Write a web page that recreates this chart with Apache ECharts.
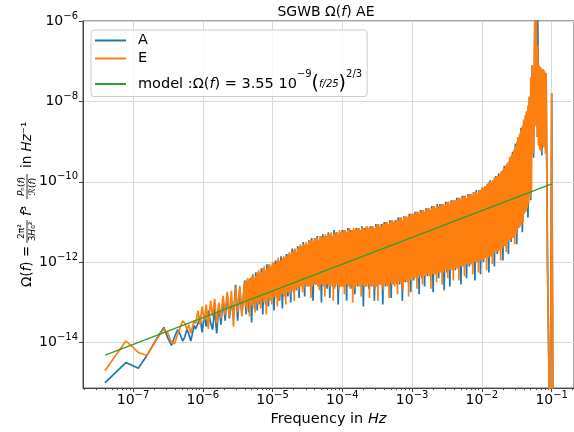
<!DOCTYPE html>
<html><head><meta charset="utf-8">
<script src="https://cdn.jsdelivr.net/npm/echarts@6/dist/echarts.min.js"></script>
<style>html,body{margin:0;padding:0;background:#fff}#c{width:574px;height:432px}</style>
</head><body><div id="c"></div><script>
const FONT = 'DejaVu Sans';
// ---- tick labels (exponents of 10) ----
const xTickExps = [-7, -6, -5, -4, -3, -2, -1];
const yTickExps = [-14, -12, -10, -8, -6];
const seriesNames = ['A', 'E', 'model'];
const seriesColors = ['#1f77b4', '#ff7f0e', '#2ca02c'];

// ---- data: frequency (Hz) shared by A and E ----
const freq = [
 3.95e-8,7.9e-8,1.19e-7,1.58e-7,1.98e-7,2.37e-7,2.77e-7,3.16e-7,3.56e-7,3.95e-7,4.35e-7,4.74e-7,5.14e-7,5.53e-7,5.93e-7,6.32e-7,6.72e-7,7.11e-7,7.51e-7,7.9e-7,
 8.51e-7,9.12e-7,9.77e-7,1.05e-6,1.12e-6,1.2e-6,1.29e-6,1.38e-6,1.48e-6,1.58e-6,1.7e-6,1.82e-6,1.95e-6,2.09e-6,2.24e-6,2.4e-6,2.57e-6,2.75e-6,2.95e-6,3.16e-6,3.39e-6,3.63e-6,
 3.98e-6,4.17e-6,4.37e-6,4.57e-6,4.79e-6,5.01e-6,5.25e-6,5.5e-6,5.75e-6,6.03e-6,6.31e-6,6.61e-6,6.92e-6,7.24e-6,7.59e-6,7.94e-6,8.32e-6,8.71e-6,9.12e-6,9.55e-6,
 1e-5,1.05e-5,1.1e-5,1.15e-5,1.2e-5,1.26e-5,1.32e-5,1.38e-5,1.45e-5,1.51e-5,1.58e-5,1.66e-5,1.74e-5,1.82e-5,1.91e-5,2e-5,2.09e-5,2.19e-5,2.29e-5,2.4e-5,2.51e-5,2.63e-5,2.75e-5,2.88e-5,3.02e-5,3.16e-5,3.31e-5,3.47e-5,3.63e-5,3.8e-5,3.98e-5,4.17e-5,4.37e-5,4.57e-5,4.79e-5,5.01e-5,5.25e-5,5.5e-5,5.75e-5,6.03e-5,6.31e-5,6.61e-5,6.92e-5,7.24e-5,7.59e-5,7.94e-5,8.32e-5,8.71e-5,9.12e-5,9.55e-5,
 1e-4,1.05e-4,1.1e-4,1.15e-4,1.2e-4,1.26e-4,1.32e-4,1.38e-4,1.45e-4,1.51e-4,1.58e-4,1.66e-4,1.74e-4,1.82e-4,1.91e-4,2e-4,2.09e-4,2.19e-4,2.29e-4,2.4e-4,2.51e-4,2.63e-4,2.75e-4,2.88e-4,3.02e-4,3.16e-4,3.31e-4,3.47e-4,3.63e-4,3.8e-4,3.98e-4,4.17e-4,4.37e-4,4.57e-4,4.79e-4,5.01e-4,5.25e-4,5.5e-4,5.75e-4,6.03e-4,6.31e-4,6.61e-4,6.92e-4,7.24e-4,7.59e-4,7.94e-4,8.32e-4,8.71e-4,9.12e-4,9.55e-4,
 1e-3,1.05e-3,1.1e-3,1.15e-3,1.2e-3,1.26e-3,1.32e-3,1.38e-3,1.45e-3,1.51e-3,1.58e-3,1.66e-3,1.74e-3,1.82e-3,1.91e-3,2e-3,2.09e-3,2.19e-3,2.29e-3,2.4e-3,2.51e-3,2.63e-3,2.75e-3,2.88e-3,3.02e-3,3.16e-3,3.31e-3,3.47e-3,3.63e-3,3.8e-3,3.98e-3,4.17e-3,4.37e-3,4.57e-3,4.79e-3,5.01e-3,5.25e-3,5.5e-3,5.75e-3,6.03e-3,6.31e-3,6.61e-3,6.92e-3,7.24e-3,7.59e-3,7.94e-3,8.32e-3,8.71e-3,9.12e-3,9.55e-3,
 1e-2,1.05e-2,1.1e-2,1.15e-2,1.2e-2,1.26e-2,1.32e-2,1.38e-2,1.45e-2,1.51e-2,1.58e-2,1.66e-2,1.74e-2,1.82e-2,1.91e-2,2e-2,2.09e-2,2.19e-2,2.29e-2,2.4e-2,2.51e-2,2.63e-2,2.75e-2,2.88e-2,3.02e-2,3.16e-2,3.31e-2,3.47e-2,3.63e-2,3.8e-2,3.98e-2,4.17e-2,4.37e-2,4.57e-2,4.79e-2,5.01e-2,5.25e-2,5.5e-2,
 5.75e-2,6.03e-2,6.31e-2,6.61e-2,6.92e-2,7.24e-2,7.59e-2,7.94e-2,8.32e-2,8.71e-2,9.12e-2,9.55e-2,1e-1,1.05e-1
];
// ---- Omega(f) for channel A ----
const omegaA = [
 1.0e-15,3.2e-15,2.3e-15,4.8e-15,9.5e-15,1.6e-14,2.4e-14,1.3e-14,8.5e-15,1.4e-14,2.1e-14,1.6e-14,1.1e-14,1.4e-14,2.2e-14,1.6e-14,1.1e-14,1.7e-14,2.7e-14,2.2e-14,
 3.0e-14,4.5e-14,1.8e-14,5.0e-14,2.5e-14,6.3e-14,3.2e-14,2.1e-14,7.0e-14,1.7e-14,8.8e-14,2.8e-14,1.24e-13,3.5e-14,1.56e-13,4.0e-14,1.1e-13,4.5e-14,2.76e-13,3.5e-14,2.2e-13,5.0e-14,
 3.5e-13,5.0e-14,3.5e-13,5.6e-14,4.0e-13,3.2e-14,5.0e-13,7.1e-14,5.6e-13,6.3e-14,
 5.6e-13,8.9e-14,7.1e-13,5.0e-14,7.1e-13,8.9e-14,8.9e-13,7.9e-14,7.9e-13,1.1e-13,
 8.9e-13,6.3e-14,1.1e-12,1.3e-13,1.1e-12,1.1e-13,1.4e-12,7.1e-14,1.3e-12,1.6e-13,
 1.6e-12,1.4e-13,1.6e-12,1.0e-13,2.2e-12,1.8e-13,2.0e-12,2.0e-13,2.5e-12,1.3e-13,
 2.5e-12,2.8e-13,3.2e-12,1.4e-13,2.8e-12,2.5e-13,3.5e-12,2.5e-13,4.0e-12,1.1e-13,
 3.5e-12,2.8e-13,4.5e-12,2.5e-13,4.0e-12,1.0e-13,5.0e-12,2.5e-13,4.5e-12,2.2e-13,
 5.6e-12,1.3e-13,5.0e-12,2.5e-13,6.3e-12,2.5e-13,5.6e-12,8.9e-14,5.6e-12,2.5e-13,
 6.3e-12,2.5e-13,5.6e-12,1.1e-13,7.1e-12,2.5e-13,6.3e-12,2.2e-13,6.3e-12,1.6e-13,
 7.1e-12,2.5e-13,6.3e-12,2.5e-13,7.9e-12,7.9e-14,7.1e-12,2.5e-13,7.1e-12,2.2e-13,
 7.9e-12,2.5e-13,7.9e-12,1.1e-13,8.9e-12,2.5e-13,7.9e-12,2.8e-13,8.9e-12,8.9e-14,
 1.0e-11,2.5e-13,8.9e-12,2.8e-13,1.1e-11,1.3e-13,1.0e-11,2.8e-13,1.1e-11,2.8e-13,
 1.3e-11,2.8e-13,1.3e-11,1.1e-13,1.4e-11,3.2e-13,1.3e-11,3.2e-13,1.6e-11,1.8e-13,
 1.6e-11,3.5e-13,1.8e-11,4.0e-13,1.8e-11,1.6e-13,2.0e-11,4.0e-13,1.8e-11,2.5e-13,
 2.2e-11,4.5e-13,2.2e-11,5.0e-13,2.5e-11,1.8e-13,2.2e-11,5.0e-13,2.8e-11,4.0e-13,
 2.8e-11,5.6e-13,2.8e-11,2.0e-13,3.2e-11,5.6e-13,3.2e-11,2.5e-13,3.5e-11,6.3e-13,
 3.5e-11,6.3e-13,4.0e-11,7.1e-13,4.0e-11,2.8e-13,4.5e-11,7.9e-13,4.5e-11,4.0e-13,
 5.0e-11,7.9e-13,5.0e-11,8.9e-13,5.6e-11,3.5e-13,6.3e-11,1.0e-12,6.3e-11,5.0e-13,
 7.1e-11,1.0e-12,7.9e-11,1.3e-12,8.9e-11,5.6e-13,1.1e-10,1.4e-12,1.1e-10,7.9e-13,
 1.4e-10,1.6e-12,1.6e-10,2.0e-12,1.8e-10,1.1e-12,2.5e-10,2.8e-12,2.8e-10,1.6e-12,
 4.0e-10,3.2e-12,5.6e-10,4.5e-12,8.9e-10,2.8e-12,1.3e-9,7.9e-12,2.2e-9,5.6e-12,
 3.5e-9,1.8e-11,5.6e-9,1.3e-11,1.3e-8,3.5e-11,7.9e-8,4.0e-10,
 2.0e-6,2.0e-8,1.3e-6,1.0e-9,7.1e-8,4.5e-10,6.3e-8,7.9e-10,5.0e-8,1.0e-12,2.5e-15,1e-17,1.6e-8,1e-17
];
// ---- Omega(f) for channel E (same frequencies as above) ----
const omegaE = [
 2.0e-15,1.1e-14,5.7e-15,4.8e-15,9.1e-15,1.5e-14,2.2e-14,1.7e-14,1.0e-14,9.5e-15,1.6e-14,2.4e-14,3.5e-14,3.0e-14,2.1e-14,2.8e-14,1.7e-14,2.5e-14,3.5e-14,3.0e-14,
 6.3e-14,2.8e-14,7.9e-14,3.5e-14,8.8e-14,2.2e-14,1.1e-13,4.5e-14,1.24e-13,3.0e-14,9.9e-14,4.0e-14,1.47e-13,5.0e-14,1.85e-13,4.5e-14,1.96e-13,2.5e-14,2.46e-13,5.6e-14,2.6e-13,4.5e-14,
 3.2e-13,3.5e-13,4.0e-13,3.8e-13,3.5e-13,4.5e-13,5.0e-13,4.2e-13,4.5e-13,5.6e-13,
 6.3e-13,5.0e-13,5.6e-13,7.1e-13,7.9e-13,6.3e-13,7.1e-13,8.9e-13,8.9e-13,7.9e-13,
 1.0e-12,1.0e-12,8.9e-13,1.1e-12,1.3e-12,1.1e-12,1.1e-12,1.3e-12,1.4e-12,1.3e-12,
 1.4e-12,1.6e-12,1.8e-12,1.6e-12,1.8e-12,2.0e-12,2.2e-12,1.8e-12,2.2e-12,2.5e-12,
 2.8e-12,2.5e-12,2.8e-12,2.8e-12,3.2e-12,2.8e-12,3.2e-12,3.5e-12,3.5e-12,3.2e-12,
 4.0e-12,4.0e-12,4.0e-12,3.5e-12,4.5e-12,4.5e-12,4.0e-12,4.5e-12,5.0e-12,4.5e-12,
 5.0e-12,5.0e-12,5.6e-12,4.5e-12,5.0e-12,5.6e-12,5.6e-12,5.0e-12,6.3e-12,5.6e-12,
 5.6e-12,6.3e-12,6.3e-12,5.6e-12,6.3e-12,7.1e-12,5.6e-12,6.3e-12,7.1e-12,6.3e-12,
 6.3e-12,7.1e-12,7.1e-12,6.3e-12,7.1e-12,7.1e-12,6.3e-12,7.9e-12,7.9e-12,7.1e-12,
 7.1e-12,7.9e-12,7.9e-12,7.1e-12,7.9e-12,8.9e-12,8.9e-12,7.9e-12,7.9e-12,8.9e-12,
 8.9e-12,1.0e-11,1.0e-11,8.9e-12,1.0e-11,1.1e-11,1.1e-11,1.0e-11,1.0e-11,1.1e-11,
 1.1e-11,1.3e-11,1.3e-11,1.1e-11,1.3e-11,1.4e-11,1.4e-11,1.3e-11,1.4e-11,1.6e-11,
 1.6e-11,1.6e-11,1.6e-11,1.8e-11,1.8e-11,1.6e-11,1.8e-11,2.0e-11,2.0e-11,1.8e-11,
 2.0e-11,2.2e-11,2.2e-11,2.0e-11,2.2e-11,2.5e-11,2.5e-11,2.2e-11,2.5e-11,2.5e-11,
 2.5e-11,2.8e-11,2.8e-11,2.5e-11,2.8e-11,3.2e-11,3.2e-11,2.8e-11,3.2e-11,3.5e-11,
 3.5e-11,3.5e-11,3.5e-11,4.0e-11,4.0e-11,3.5e-11,4.0e-11,4.5e-11,4.5e-11,4.0e-11,
 4.5e-11,5.0e-11,5.0e-11,4.5e-11,5.6e-11,5.6e-11,5.6e-11,5.0e-11,6.3e-11,6.3e-11,
 7.1e-11,7.1e-11,7.9e-11,7.1e-11,8.9e-11,1.0e-10,1.0e-10,1.0e-10,1.1e-10,1.3e-10,
 1.3e-10,1.4e-10,1.4e-10,1.6e-10,1.8e-10,2.0e-10,2.2e-10,2.5e-10,2.8e-10,3.2e-10,
 4.0e-10,4.5e-10,5.0e-10,6.3e-10,7.9e-10,1.0e-9,1.3e-9,1.6e-9,2.0e-9,2.5e-9,
 3.5e-9,4.5e-9,5.6e-9,7.9e-9,1.3e-8,4.0e-8,7.9e-8,5.0e-10,
 2.0e-6,1.3e-6,2.5e-7,7.9e-8,7.1e-8,6.3e-8,6.3e-8,5.6e-8,5.0e-8,1.0e-12,2.5e-15,1e-17,1.6e-8,1e-17
];
// ---- extra E samples read between the points above (dense band 4e-6 .. 8e-2) ----
const freqEExtra = [
 4.07e-6,4.27e-6,4.47e-6,4.68e-6,4.9e-6,5.13e-6,5.37e-6,5.62e-6,5.89e-6,6.17e-6,6.46e-6,6.76e-6,7.08e-6,7.41e-6,7.76e-6,8.13e-6,8.51e-6,8.91e-6,9.33e-6,9.77e-6,
 1.02e-5,1.07e-5,1.12e-5,1.17e-5,1.23e-5,1.29e-5,1.35e-5,1.41e-5,1.48e-5,1.55e-5,1.62e-5,1.7e-5,1.78e-5,1.86e-5,1.95e-5,2.04e-5,2.14e-5,2.24e-5,2.34e-5,2.45e-5,2.57e-5,2.69e-5,2.82e-5,2.95e-5,3.09e-5,3.24e-5,3.39e-5,3.55e-5,3.72e-5,3.89e-5,4.07e-5,4.27e-5,4.47e-5,4.68e-5,4.9e-5,5.13e-5,5.37e-5,5.62e-5,5.89e-5,6.17e-5,6.46e-5,6.76e-5,7.08e-5,7.41e-5,7.76e-5,8.13e-5,8.51e-5,8.91e-5,9.33e-5,9.77e-5,
 1.02e-4,1.07e-4,1.12e-4,1.17e-4,1.23e-4,1.29e-4,1.35e-4,1.41e-4,1.48e-4,1.55e-4,1.62e-4,1.7e-4,1.78e-4,1.86e-4,1.95e-4,2.04e-4,2.14e-4,2.24e-4,2.34e-4,2.45e-4,2.57e-4,2.69e-4,2.82e-4,2.95e-4,3.09e-4,3.24e-4,3.39e-4,3.55e-4,3.72e-4,3.89e-4,4.07e-4,4.27e-4,4.47e-4,4.68e-4,4.9e-4,5.13e-4,5.37e-4,5.62e-4,5.89e-4,6.17e-4,6.46e-4,6.76e-4,7.08e-4,7.41e-4,7.76e-4,8.13e-4,8.51e-4,8.91e-4,9.33e-4,9.77e-4,
 1.02e-3,1.07e-3,1.12e-3,1.17e-3,1.23e-3,1.29e-3,1.35e-3,1.41e-3,1.48e-3,1.55e-3,1.62e-3,1.7e-3,1.78e-3,1.86e-3,1.95e-3,2.04e-3,2.14e-3,2.24e-3,2.34e-3,2.45e-3,2.57e-3,2.69e-3,2.82e-3,2.95e-3,3.09e-3,3.24e-3,3.39e-3,3.55e-3,3.72e-3,3.89e-3,4.07e-3,4.27e-3,4.47e-3,4.68e-3,4.9e-3,5.13e-3,5.37e-3,5.62e-3,5.89e-3,6.17e-3,6.46e-3,6.76e-3,7.08e-3,7.41e-3,7.76e-3,8.13e-3,8.51e-3,8.91e-3,9.33e-3,9.77e-3,
 1.02e-2,1.07e-2,1.12e-2,1.17e-2,1.23e-2,1.29e-2,1.35e-2,1.41e-2,1.48e-2,1.55e-2,1.62e-2,1.7e-2,1.78e-2,1.86e-2,1.95e-2,2.04e-2,2.14e-2,2.24e-2,2.34e-2,2.45e-2,2.57e-2,2.69e-2,2.82e-2,2.95e-2,3.09e-2,3.24e-2,3.39e-2,3.55e-2,3.72e-2,3.89e-2,4.07e-2,4.27e-2,4.47e-2,4.68e-2,4.9e-2,5.13e-2,
 5.89e-2,6.17e-2,6.46e-2,6.76e-2,7.08e-2,7.41e-2,7.76e-2,8.13e-2
];
const omegaEExtra = [
 7.9e-14,6.3e-14,1.0e-13,4.5e-14,8.9e-14,7.9e-14,1.1e-13,5.6e-14,1.0e-13,8.9e-14,
 1.1e-13,7.1e-14,1.3e-13,1.0e-13,1.1e-13,5.0e-14,1.3e-13,1.1e-13,1.3e-13,8.9e-14,
 1.3e-13,1.4e-13,1.4e-13,7.9e-14,1.1e-13,1.4e-13,1.6e-13,1.6e-13,1.4e-13,8.9e-14,
 1.8e-13,1.8e-13,1.6e-13,2.0e-13,2.0e-13,1.1e-13,2.2e-13,2.2e-13,2.0e-13,2.5e-13,
 2.5e-13,1.8e-13,2.2e-13,2.8e-13,2.8e-13,2.5e-13,2.5e-13,1.3e-13,2.5e-13,2.8e-13,
 2.8e-13,3.2e-13,2.5e-13,2.0e-13,2.8e-13,2.8e-13,2.5e-13,1.4e-13,2.8e-13,2.8e-13,
 2.5e-13,2.5e-13,2.8e-13,1.1e-13,2.2e-13,2.8e-13,2.8e-13,2.0e-13,2.5e-13,2.5e-13,
 2.5e-13,1.6e-13,2.8e-13,2.8e-13,2.5e-13,2.2e-13,2.8e-13,1.0e-13,2.2e-13,2.5e-13,
 2.8e-13,2.8e-13,2.5e-13,1.4e-13,2.8e-13,2.5e-13,2.5e-13,2.5e-13,2.8e-13,1.3e-13,
 2.5e-13,2.8e-13,2.8e-13,2.2e-13,2.5e-13,1.1e-13,2.8e-13,2.8e-13,2.5e-13,2.0e-13,
 2.8e-13,2.8e-13,2.5e-13,1.3e-13,3.2e-13,2.8e-13,2.8e-13,2.5e-13,3.2e-13,1.6e-13,
 3.2e-13,3.2e-13,2.8e-13,2.0e-13,3.5e-13,3.5e-13,3.2e-13,1.4e-13,3.5e-13,3.5e-13,
 4.0e-13,4.0e-13,4.5e-13,2.2e-13,4.0e-13,4.5e-13,4.5e-13,2.8e-13,4.5e-13,4.5e-13,
 5.0e-13,5.0e-13,4.5e-13,2.2e-13,5.0e-13,5.0e-13,5.0e-13,3.2e-13,5.6e-13,5.6e-13,
 5.6e-13,2.8e-13,5.6e-13,6.3e-13,6.3e-13,4.0e-13,6.3e-13,6.3e-13,7.1e-13,3.5e-13,
 7.1e-13,7.1e-13,7.1e-13,3.5e-13,7.9e-13,7.9e-13,7.9e-13,4.5e-13,8.9e-13,8.9e-13,
 8.9e-13,8.9e-13,8.9e-13,5.0e-13,1.0e-12,1.0e-12,1.0e-12,5.6e-13,1.1e-12,1.1e-12,
 1.1e-12,1.1e-12,1.3e-12,6.3e-13,1.3e-12,1.4e-12,1.4e-12,8.9e-13,1.6e-12,1.8e-12,
 1.8e-12,1.8e-12,2.0e-12,1.1e-12,2.2e-12,2.5e-12,2.5e-12,1.8e-12,3.2e-12,3.5e-12,
 3.5e-12,4.0e-12,4.0e-12,2.8e-12,5.0e-12,6.3e-12,7.1e-12,7.9e-12,8.9e-12,1.0e-11,
 1.6e-11,1.8e-11,2.2e-11,2.8e-11,4.0e-11,5.6e-11,
 2.5e-9,1.3e-9,7.9e-10,6.3e-10,5.6e-10,7.9e-10,7.1e-10,5.0e-10
];
// ---- model line end points ----
const modelFreq = [4e-8, 1e-1];
const modelOmega = [4.9e-15, 8.9e-11];

// ---- helpers ----
const lg = Math.log10;
const toXY = (fs, vs) => fs.map((f, i) => [lg(f), lg(vs[i])]);
const byX = (a, b) => a[0] - b[0];
const dataA = toXY(freq, omegaA);
const dataE = toXY(freq, omegaE).concat(toXY(freqEExtra, omegaEExtra)).sort(byX);
const X_MIN = -7.717, X_MAX = -0.68, Y_MIN = -15.13, Y_MAX = -6;
const minorX = [];
for (let n = -8; n <= -1; n++) for (let m = 2; m <= 9; m++) {
  const v = n + lg(m); if (v > X_MIN && v < X_MAX) minorX.push(v);
}
function expLabel(v) { const e = Math.round(v); return '{b|10}{s|' + (e < 0 ? '\u2212' : '') + Math.abs(e) + '}'; }
const tickRich = {
  b: {fontFamily: FONT, fontSize: 14, lineHeight: 20, color: '#000'},
  s: {fontFamily: FONT, fontSize: 10, lineHeight: 11, verticalAlign: 'top', color: '#000'}
};
const LF = 14.5;
const legRich = {
  n: {fontFamily: FONT, fontSize: LF, lineHeight: 18, padding: [0, 0, 0, 7], color: '#000'},
  t0: {fontFamily: FONT, fontSize: LF, lineHeight: 30, padding: [0, 0, 0, 7], color: '#000'},
  t: {fontFamily: FONT, fontSize: LF, lineHeight: 30, color: '#000'},
  i: {fontFamily: FONT, fontSize: LF, lineHeight: 30, fontStyle: 'italic', color: '#000'},
  s: {fontFamily: FONT, fontSize: 10, lineHeight: 18, verticalAlign: 'top', color: '#000'},
  p: {fontFamily: FONT, fontSize: 19, lineHeight: 30, color: '#000'},
  fr: {fontFamily: FONT, fontSize: 10, lineHeight: 30, fontStyle: 'italic', color: '#000'}
};
const yRich = {
  t: {fontFamily: FONT, fontSize: 13.5, color: '#000'},
  i: {fontFamily: FONT, fontSize: 13.5, fontStyle: 'italic', color: '#000'},
  a: {fontFamily: FONT, fontSize: 9, color: '#000'},
  ai: {fontFamily: FONT, fontSize: 9, fontStyle: 'italic', color: '#000'}
};
const axisColor = '#444';
const gridColor = '#d9d9d9';
const LW = 1.7;

const chart = echarts.init(document.getElementById('c'), null, {renderer: 'canvas', width: 574, height: 432});
chart.setOption({
  animation: false,
  backgroundColor: '#fff',
  title: {
    text: '{a|SGWB \u03A9(}{i|f}{a|) AE}', left: 326, top: 5, padding: 0, textAlign: 'center',
    textStyle: {fontWeight: 'normal', rich: {
      a: {fontFamily: FONT, fontSize: 14, fontWeight: 'normal', color: '#000'},
      i: {fontFamily: FONT, fontSize: 14, fontWeight: 'normal', fontStyle: 'italic', color: '#000'}
    }}
  },
  grid: {left: 83, right: -3, top: 21, bottom: 42, show: true, borderColor: axisColor, borderWidth: 1, containLabel: false},
  legend: {
    orient: 'vertical', left: 91, top: 30, padding: [3, 5, 3, 4], itemGap: 3, itemWidth: 31, itemHeight: 2,
    icon: 'rect',
    backgroundColor: 'rgba(255,255,255,0.8)', borderColor: '#cccccc', borderWidth: 1, borderRadius: 3,
    selectedMode: false, data: seriesNames,
    formatter: n => n === 'model'
      ? '{t0|model :\u03A9(}{i|f}{t|) = 3.55 10}{s|\u22129}{p|(}{fr|f/25}{p|)}{s|2/3}'
      : '{n|' + n + '}',
    textStyle: {rich: legRich}
  },
  xAxis: [{
    type: 'value', min: X_MIN, max: X_MAX, position: 'bottom',
    axisLine: {show: true, onZero: false, lineStyle: {color: axisColor}},
    axisTick: {show: true, customValues: xTickExps, length: 4, inside: false, lineStyle: {color: axisColor}},
    axisLabel: {customValues: xTickExps, formatter: expLabel, margin: 2, rich: tickRich},
    splitLine: {show: true, lineStyle: {color: gridColor, width: 1}},
    name: '{t|Frequency in }{i|Hz}', nameLocation: 'middle', nameGap: 22,
    nameTextStyle: {rich: {
      t: {fontFamily: FONT, fontSize: 14.5, color: '#000'},
      i: {fontFamily: FONT, fontSize: 14.5, fontStyle: 'italic', color: '#000'}
    }}
  }, {
    type: 'value', min: X_MIN, max: X_MAX, position: 'bottom', gridIndex: 0,
    axisLine: {show: false, onZero: false}, axisLabel: {show: false}, splitLine: {show: false},
    axisTick: {show: true, customValues: minorX, length: 2, lineStyle: {color: axisColor}}
  }],
  yAxis: {
    type: 'value', min: Y_MIN, max: Y_MAX,
    axisLine: {show: true, onZero: false, lineStyle: {color: axisColor}},
    axisTick: {show: true, customValues: yTickExps, length: 4, inside: false, lineStyle: {color: axisColor}},
    axisLabel: {customValues: yTickExps, formatter: expLabel, margin: 5, rich: tickRich},
    splitLine: {show: true, lineStyle: {color: gridColor, width: 1}}
  },
  series: [
    {name: seriesNames[0], type: 'line', xAxisIndex: 0, data: dataA, symbol: 'none', clip: true, silent: true,
     lineStyle: {width: LW, color: seriesColors[0]}, itemStyle: {color: seriesColors[0]}, z: 2},
    {name: seriesNames[1], type: 'line', xAxisIndex: 0, data: dataE, symbol: 'none', clip: true, silent: true,
     lineStyle: {width: LW, color: seriesColors[1]}, itemStyle: {color: seriesColors[1]}, z: 3},
    {name: seriesNames[2], type: 'line', xAxisIndex: 0, data: toXY(modelFreq, modelOmega), symbol: 'none', clip: true, silent: true,
     lineStyle: {width: 1.3, color: seriesColors[2]}, itemStyle: {color: seriesColors[2]}, z: 4}
  ],
  graphic: {elements: [{
    type: 'group', x: 27, y: 205, rotation: Math.PI / 2, silent: true,
    children: [
      {type: 'text', x: -82, y: 0, style: {text: '{t|\u03A9(}{i|f}{t|) =}', align: 'left', verticalAlign: 'middle', rich: yRich}},
      {type: 'text', x: -26.5, y: -5.5, style: {text: '{a|2\u03C0\u00B2}', align: 'center', verticalAlign: 'middle', rich: yRich}},
      {type: 'line', shape: {x1: -38, y1: 0, x2: -15, y2: 0}, style: {stroke: '#000', lineWidth: 0.8}},
      {type: 'text', x: -26.5, y: 6, style: {text: '{a|3}{ai|H}{a|\u2080\u00B2}', align: 'center', verticalAlign: 'middle', rich: yRich}},
      {type: 'text', x: -11, y: 0, style: {text: '{i|f}{t|\u00B3}', align: 'left', verticalAlign: 'middle', rich: yRich}},
      {type: 'text', x: 18.5, y: -5.5, style: {text: '{ai|P}{a|\u2099(}{ai|f}{a|)}', align: 'center', verticalAlign: 'middle', rich: yRich}},
      {type: 'line', shape: {x1: 6, y1: 0, x2: 31, y2: 0}, style: {stroke: '#000', lineWidth: 0.8}},
      {type: 'text', x: 18.5, y: 6, style: {text: '{a|\u211B(}{ai|f}{a|)}', align: 'center', verticalAlign: 'middle', rich: yRich}},
      {type: 'text', x: 37, y: 0, style: {text: '{t|in }{i|Hz}{t|\u207B\u00B9}', align: 'left', verticalAlign: 'middle', rich: yRich}}
    ]
  }]}
});
</script></body></html>
